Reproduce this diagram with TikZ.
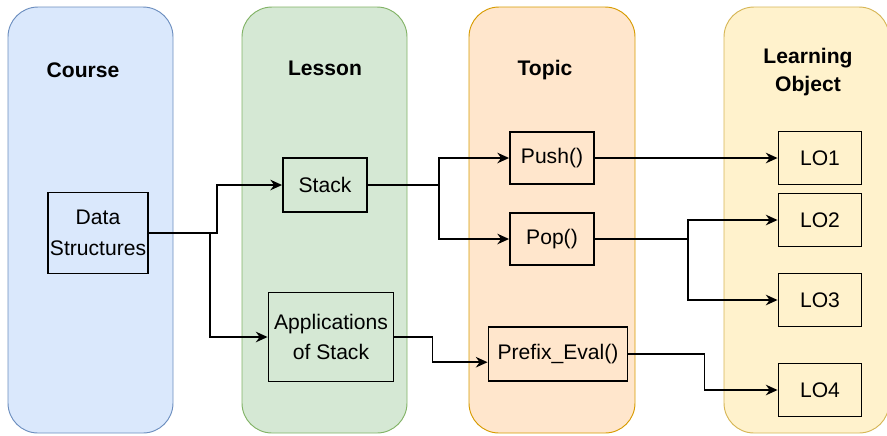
\documentclass[tikz,border=0pt]{standalone}
\usepackage{fontspec}
\setmainfont{Liberation Sans}
\usepackage{tikz}
\usetikzlibrary{arrows.meta}

\definecolor{courseFill}{HTML}{DAE8FC}
\definecolor{courseLine}{HTML}{6C8EBF}
\definecolor{lessonFill}{HTML}{D5E8D4}
\definecolor{lessonLine}{HTML}{82B366}
\definecolor{topicFill}{HTML}{FFE6CC}
\definecolor{topicLine}{HTML}{D79B00}
\definecolor{loFill}{HTML}{FFF2CC}
\definecolor{loLine}{HTML}{D6B656}

\tikzset{
  column/.style={line width=0.8pt, rounded corners=0.9cm},
  title/.style={font=\fontsize{18}{24}\selectfont\bfseries, align=center},
  item/.style={draw, line width=1.6pt, align=center, inner sep=2pt,
    font=\fontsize{18}{26}\selectfont},
  link/.style={line width=1.5pt, -{Stealth[length=10pt,width=9pt]}}
}

\begin{document}
\begin{tikzpicture}[x=0.03cm,y=-0.03cm]
\useasboundingbox (0,0) rectangle (887,435);
% draws the four columns
\draw[column, fill=courseFill, draw=courseLine] (8,7) rectangle (173,433);
\draw[column, fill=lessonFill, draw=lessonLine] (242,7) rectangle (407,433);
\draw[column, fill=topicFill, draw=topicLine] (469,7) rectangle (635,433);
\draw[column, fill=loFill, draw=loLine] (724,7) rectangle (889,433);
% column titles
\node[title] (course) at (83,70) {Course};
\node[title] (lesson) at (325,68) {Lesson};
\node[title] (topic) at (545,70) {Topic};
\node[title] (lo) at (808,72) {Learning\\Object};
% draws boxes
\node[item, minimum width=2.94cm, minimum height=2.43cm] (ds) at (98,233) {Data\\Structures};
\node[item, minimum width=2.52cm, minimum height=1.62cm] (stack) at (325,185) {Stack};
\node[item, minimum width=3.75cm, minimum height=2.67cm] (apps) at (331,337) {Applications\\of Stack};
\node[item, minimum width=2.52cm, minimum height=1.56cm] (push) at (552,158) {Push()};
\node[item, minimum width=2.52cm, minimum height=1.56cm] (pop) at (552,239) {Pop()};
\node[item, minimum width=4.17cm, minimum height=1.62cm] (prefix) at (558,354) {Prefix\_Eval()};
\node[item, minimum width=2.49cm, minimum height=1.59cm] (lo1) at (820,158) {LO1};
\node[item, minimum width=2.49cm, minimum height=1.59cm] (lo2) at (820,220) {LO2};
\node[item, minimum width=2.49cm, minimum height=1.59cm] (lo3) at (820,300) {LO3};
\node[item, minimum width=2.49cm, minimum height=1.59cm] (lo4) at (820,390) {LO4};
% draws edges
\draw[link] (ds.east) -- ++(68,0) |- (stack.west);
\draw[link] (ds.east) -- ++(61,0) |- (apps.west);
\draw[link] (stack.east) -- ++(71,0) |- (push.west);
\draw[link] (stack.east) -- ++(71,0) |- (pop.west);
\draw[link] (apps.east) -- ++(38,0) |- ([yshift=-7pt]prefix.west);
\draw[link] (push.east) -- (lo1.west);
\draw[link] (pop.east) -- ++(93,0) |- (lo2.west);
\draw[link] (pop.east) -- ++(93,0) |- (lo3.west);
\draw[link] (prefix.east) -- ++(76,0) |- (lo4.west);
\end{tikzpicture}
\end{document}
